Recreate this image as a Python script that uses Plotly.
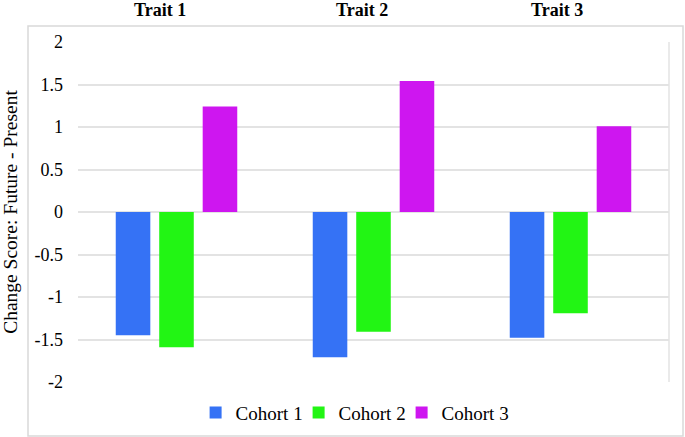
import plotly.graph_objects as go

traits = ["Trait 1", "Trait 2", "Trait 3"]
cohort1 = [-1.45, -1.71, -1.48]
cohort2 = [-1.59, -1.41, -1.19]
cohort3 = [1.24, 1.54, 1.01]
series_names = ["Cohort 1", "Cohort 2", "Cohort 3"]
colors = ["#3572F5", "#22F514", "#CE16F0"]
y_ticks = [-2, -1.5, -1, -0.5, 0, 0.5, 1, 1.5, 2]
y_tick_labels = ["-2", "-1.5", "-1", "-0.5", "0", "0.5", "1", "1.5", "2"]

FONT = "'Liberation Serif', 'Times New Roman', serif"

fig = go.Figure()
for name, vals, col in zip(series_names, [cohort1, cohort2, cohort3], colors):
    fig.add_trace(go.Bar(x=traits, y=vals, name=name, marker=dict(color=col, line=dict(width=0))))

# invisible spacer entry so the last legend label is not clipped
fig.add_trace(go.Scatter(x=[None], y=[None], name=" ", mode="markers",
                         marker=dict(color="rgba(0,0,0,0)"), hoverinfo="skip"))

title_shifts = [-17, -12, -14]
for t, s in zip(traits, title_shifts):
    fig.add_annotation(x=t, xref="x", y=1.0, yref="paper", yshift=32, xshift=s,
                       text="<b>" + t + "</b>", showarrow=False,
                       font=dict(family=FONT, size=18, color="black"), yanchor="middle")

# outer frame
fig.add_shape(type="rect", xref="paper", yref="paper", x0=-0.0846, x1=1.0237, y0=-0.159, y1=1.047,
              line=dict(color="#D9D9D9", width=1.5), fillcolor="rgba(0,0,0,0)", layer="below")
# right edge of plot area
fig.add_shape(type="line", xref="paper", yref="paper", x0=1, x1=1, y0=0, y1=1,
              line=dict(color="#E3E3E3", width=1.5))

fig.update_layout(
    width=685, height=437,
    margin=dict(l=78, r=16, t=42, b=55, autoexpand=False),
    paper_bgcolor="white", plot_bgcolor="white",
    barmode="group", bargap=0.338, bargroupgap=0.205,
    font=dict(family=FONT, color="black"),
    showlegend=True,
    legend=dict(orientation="h", x=0.199, xanchor="left", y=-0.09, yanchor="middle",
                font=dict(family=FONT, size=19, color="black"), itemwidth=30,
                entrywidth=58, traceorder="normal"),
    xaxis=dict(showticklabels=False, showgrid=False, zeroline=False, showline=False, ticks=""),
    yaxis=dict(range=[-2, 2], tickvals=y_ticks, ticktext=y_tick_labels,
               showgrid=True, gridcolor="#E3E3E3", gridwidth=1.5,
               zeroline=True, zerolinecolor="#E3E3E3", zerolinewidth=1.5,
               showline=False, ticks="", ticklabelstandoff=14,
               tickfont=dict(family=FONT, size=18, color="black"),
               title=dict(text="Change Score: Future - Present", standoff=18,
                          font=dict(family=FONT, size=19.5, color="black"))),
)

fig.write_html("out.html", config={"displayModeBar": False},
               post_script="document.body.style.margin='0';document.body.style.padding='0';")
